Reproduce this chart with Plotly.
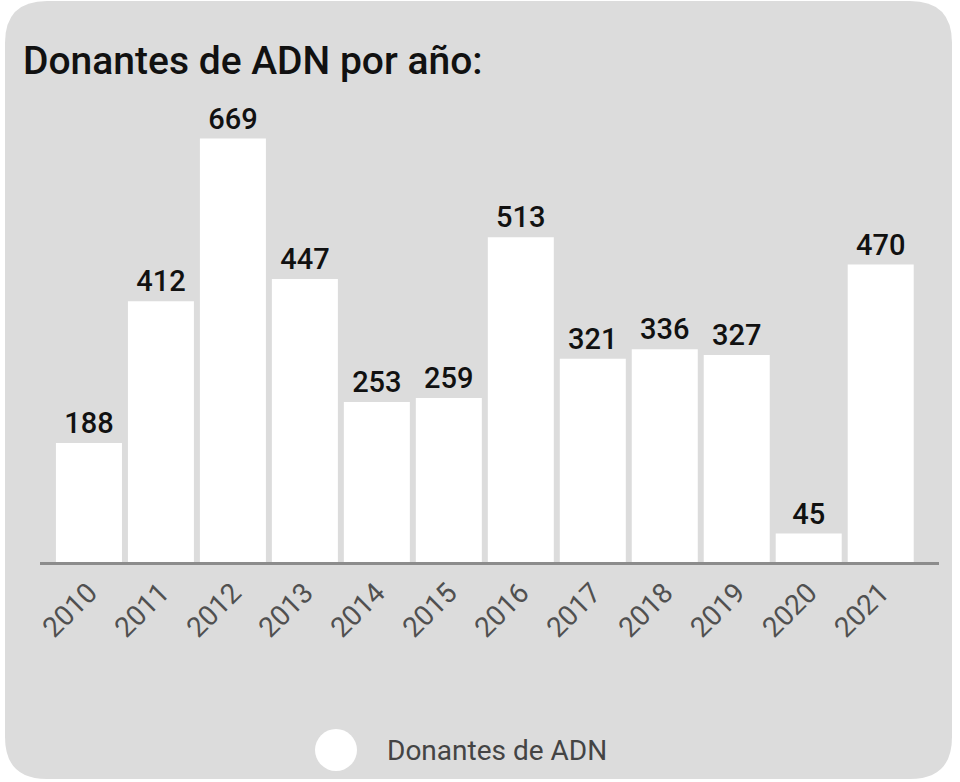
import plotly.graph_objects as go

years = ["2010", "2011", "2012", "2013", "2014", "2015", "2016", "2017", "2018", "2019", "2020", "2021"]
donantes = [188, 412, 669, 447, 253, 259, 513, 321, 336, 327, 45, 470]
series_name = "Donantes de ADN"
title_text = "Donantes de ADN por año:"

W, H = 960, 782
L, R, T, B = 40, 21, 100, 220
PW, PH = W - L - R, H - T - B

def px2x(px):
    return (px - L) / PW

def py2y(py):
    return 1 - (py - T) / PH

# rounded card path in paper coords
x0, x1, y0, y1, rad = 5, 952, 1, 779, 42
def P(px, py):
    return f"{px2x(px):.5f},{py2y(py):.5f}"
path = (f"M {P(x0+rad, y0)} L {P(x1-rad, y0)} Q {P(x1, y0)} {P(x1, y0+rad)} "
        f"L {P(x1, y1-rad)} Q {P(x1, y1)} {P(x1-rad, y1)} "
        f"L {P(x0+rad, y1)} Q {P(x0, y1)} {P(x0, y1-rad)} "
        f"L {P(x0, y0+rad)} Q {P(x0, y0)} {P(x0+rad, y0)} Z")

fig = go.Figure()
fig.add_trace(go.Bar(
    x=years, y=donantes, name=series_name,
    marker=dict(color="white", line=dict(width=0)),
    text=[str(v) for v in donantes], textposition="outside",
    textfont=dict(family="Roboto", size=29, color="#111111", weight=500),
    cliponaxis=False, showlegend=False,
))

fig.update_layout(
    width=W, height=H,
    margin=dict(l=L, r=R, t=T, b=B),
    paper_bgcolor="white", plot_bgcolor="rgba(0,0,0,0)",
    bargap=0.083,
    shapes=[
        dict(type="path", xref="paper", yref="paper", path=path,
             fillcolor="#dcdcdc", line=dict(width=0), layer="below"),
        dict(type="circle", xref="paper", yref="paper",
             x0=px2x(315), x1=px2x(357), y0=py2y(771), y1=py2y(729),
             fillcolor="white", line=dict(width=0)),
    ],
    annotations=[
        dict(text=title_text, xref="paper", yref="paper",
             x=px2x(21), y=py2y(61), xanchor="left", yanchor="middle",
             showarrow=False, font=dict(family="Roboto", size=39, color="#111111", weight=500)),
        dict(text=series_name, xref="paper", yref="paper",
             x=px2x(385), y=py2y(750), xanchor="left", yanchor="middle",
             showarrow=False, font=dict(family="Roboto", size=28, color="#444444")),
    ],
    xaxis=dict(
        type="category", range=[-0.68, 11.81],
        showline=True, linecolor="#8c8c8c", linewidth=3,
        showgrid=False, ticks="", tickangle=-45,
        tickfont=dict(family="Roboto", size=28, color="#505050"),
    ),
    yaxis=dict(range=[0, 730], visible=False, showgrid=False, zeroline=False),
)

fig.write_html("out.html", config={"displayModeBar": False},
               post_script="document.body.style.margin='0';document.body.style.overflow='hidden';")
